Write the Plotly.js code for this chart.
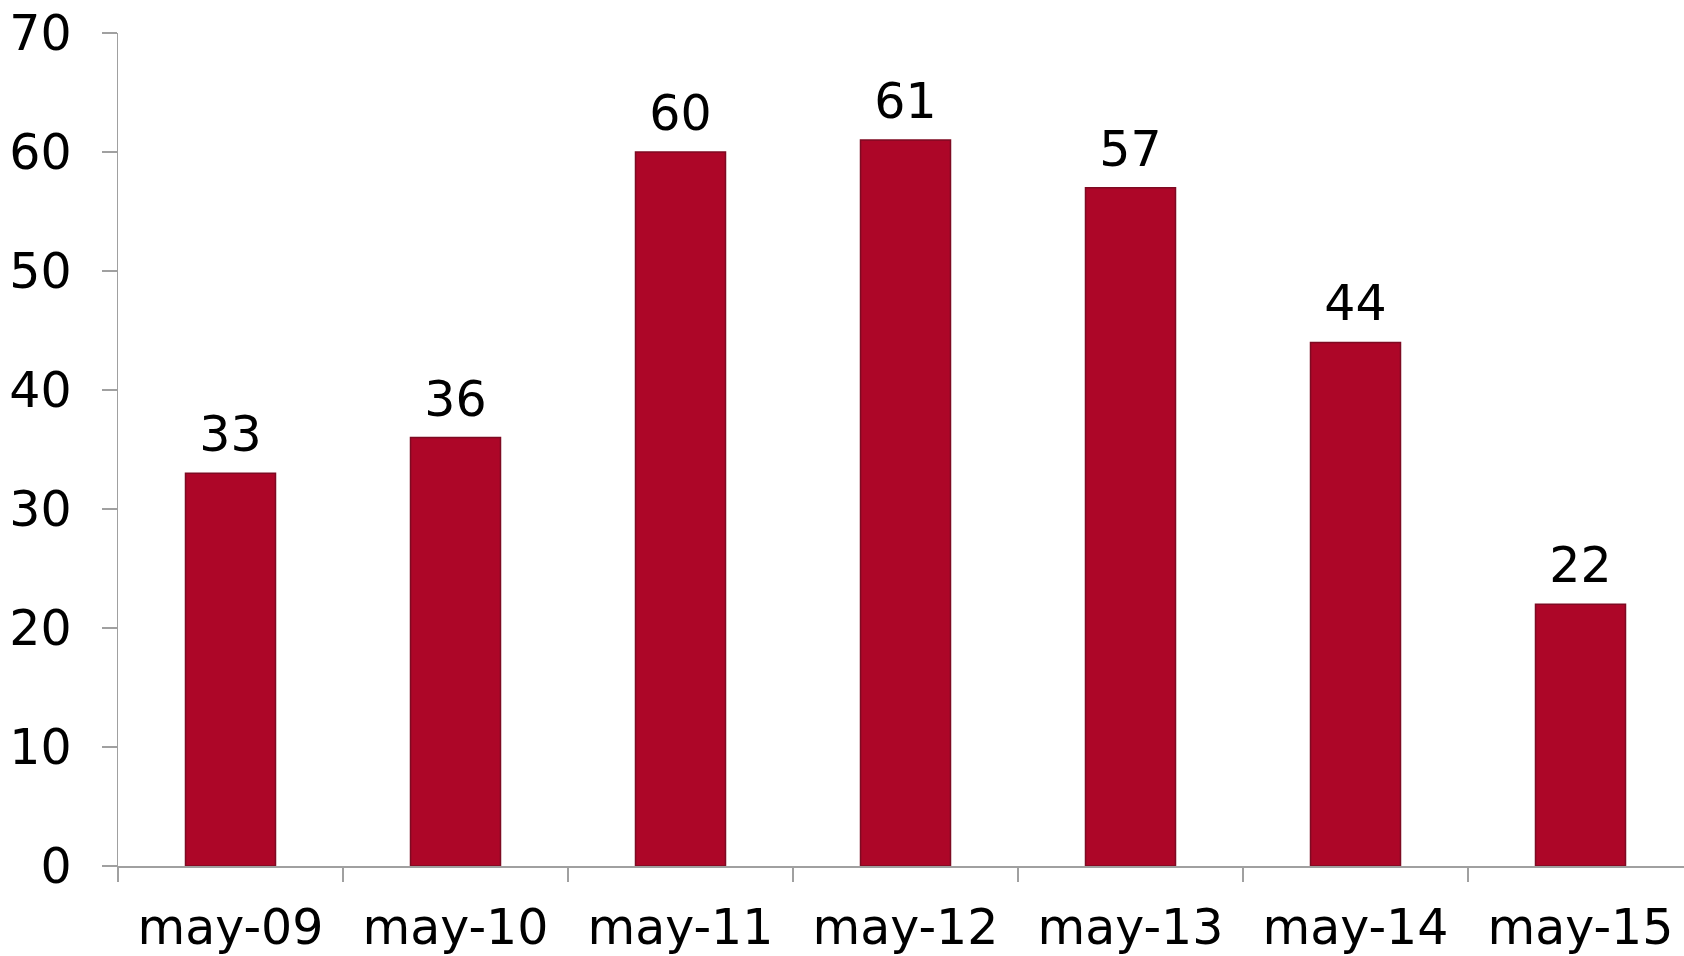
<!DOCTYPE html>
<html>
<head>
<meta charset="utf-8">
<script src="https://cdn.plot.ly/plotly-3.0.1.min.js"></script>
<style>html,body{margin:0;padding:0;background:#fff;}#chart{width:1684px;height:956px;}</style>
</head>
<body>
<div id="chart"></div>
<script>
const categories = ["may-09", "may-10", "may-11", "may-12", "may-13", "may-14", "may-15"];
const values = [33, 36, 60, 61, 57, 44, 22];
const yTicks = [0, 10, 20, 30, 40, 50, 60, 70];

const FONT = "DejaVu Sans, Verdana, sans-serif";

const bars = {
  type: "bar",
  x: categories,
  y: values,
  marker: {color: "#AD0628", line: {color: "#7E0A22", width: 1.5}},
  hoverinfo: "none"
};

const labels = {
  type: "scatter",
  mode: "markers+text",
  x: categories,
  y: values,
  text: values.map(String),
  textposition: "top center",
  textfont: {family: FONT, size: 49, color: "#000"},
  marker: {size: 14, color: "rgba(0,0,0,0)", line: {width: 0}},
  cliponaxis: false,
  hoverinfo: "none"
};

const layout = {
  width: 1684,
  height: 956,
  margin: {l: 118, r: 0, t: 33, b: 90, pad: 0},
  paper_bgcolor: "#ffffff",
  plot_bgcolor: "#ffffff",
  showlegend: false,
  bargap: 0.6,
  font: {family: FONT, size: 49, color: "#000"},
  xaxis: {
    type: "category",
    range: [-0.5, 6.46],
    showline: true,
    linecolor: "#A0A0A0",
    linewidth: 1.5,
    ticks: "outside",
    tickson: "boundaries",
    ticklen: 14,
    tickwidth: 1.5,
    tickcolor: "#A0A0A0",
    showgrid: false,
    zeroline: false,
    tickfont: {family: FONT, size: 49, color: "#000"},
    ticklabelstandoff: 18
  },
  yaxis: {
    range: [0, 70],
    tickvals: yTicks,
    ticktext: yTicks.map(String),
    showline: true,
    linecolor: "#A0A0A0",
    linewidth: 1.5,
    ticks: "outside",
    ticklen: 15,
    tickwidth: 1.5,
    tickcolor: "#A0A0A0",
    showgrid: false,
    zeroline: false,
    tickfont: {family: FONT, size: 49, color: "#000"},
    ticklabelstandoff: 20
  }
};

Plotly.newPlot("chart", [bars, labels], layout, {displayModeBar: false, staticPlot: true});
</script>
</body>
</html>
